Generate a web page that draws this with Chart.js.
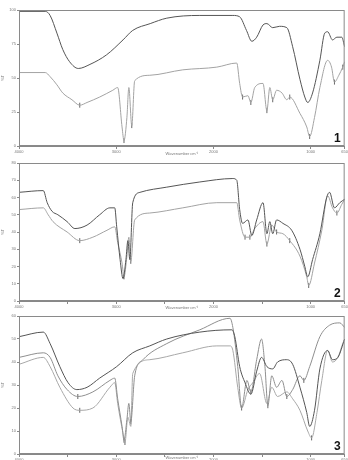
<!DOCTYPE html>
<html><head><meta charset="utf-8">
<script src="https://cdn.jsdelivr.net/npm/chart.js@4/dist/chart.umd.min.js"></script>
<style>
html,body{margin:0;padding:0;background:#fff;width:348px;height:460px;overflow:hidden}
.p{position:absolute;left:0}
</style></head><body>
<div class="p" style="top:0"><canvas id="c1" width="348" height="156"></canvas></div>
<div class="p" style="top:158px"><canvas id="c2" width="348" height="152"></canvas></div>
<div class="p" style="top:312px"><canvas id="c3" width="348" height="148"></canvas></div>
<script>
// x tick values (wavenumber, cm-1)
const xTicks = [4000, 3000, 2000, 1000, 650];
const xTicksMinor = [4000, 3500, 3000, 2500, 2000, 1500, 1000, 650];

// Panel 1
const p1DarkWn = [4000,3730,3680,3610,3550,3480,3390,3270,3100,2930,2830,2650,2480,2140,1800,1730,1660,1605,1555,1490,1450,1390,1320,1245,1185,1110,1060,1030,980,905,855,825,775,730,680,650];
const p1DarkT  = [99,99,96,83,71,62,57,60,67,78,85,90,94,96,96,95,85,77,80,89,90,87,88,87,73,49,36,32,39,63,83,84,78,80,80,73];
const p1LightWn = [4000,3730,3680,3610,3550,3455,3375,3300,3170,3035,2985,2940,2920,2890,2870,2840,2810,2655,2315,1965,1760,1730,1700,1645,1615,1575,1490,1450,1420,1390,1350,1295,1245,1215,1110,1040,1010,960,905,825,785,755,710,670,650];
const p1LightT  = [54,54,51,45,39,34,30,32,36,41,43,14,4,21,43,15,48,52,56,58,61,46,36,37,32,43,46,26,43,34,41,39,34,36,24,14,7,21,43,63,58,47,52,58,62];
const p1Marks = [6,12,15,22,24,27,29,33,36,41,43];

// Panel 2
const p2DarkWn = [4000,3750,3710,3660,3600,3505,3425,3300,3170,3065,3015,2995,2960,2930,2900,2880,2860,2830,2755,2480,2140,1800,1760,1730,1700,1645,1605,1555,1490,1450,1420,1390,1350,1285,1195,1110,1060,1030,980,905,835,805,755,700,650];
const p2DarkT  = [63,64,57,52,50,46,42,44,50,54,54,43,24,13,24,35,24,57,63,66,69,71,70,53,45,47,38,47,57,39,46,39,47,45,41,30,20,14,24,39,60,63,54,57,59];
const p2LightWn = [4000,3750,3700,3650,3505,3375,3240,3095,3015,2985,2940,2920,2890,2870,2850,2810,2655,2315,1965,1760,1730,1675,1625,1575,1490,1450,1400,1350,1285,1215,1110,1040,1020,960,885,825,775,730,680,650];
const p2LightT  = [53,54,50,46,40,35,37,41,43,34,22,14,26,37,23,47,51,54,57,57,47,37,37,42,46,33,44,40,39,35,26,14,9,22,41,61,54,51,56,59];
const p2Marks = [5,11,14,21,22,25,27,29,32,37];

// Panel 3
const p3aWn = [4000,3750,3680,3580,3495,3405,3300,3170,2995,2830,2655,2480,2140,1810,1780,1730,1675,1615,1555,1505,1450,1390,1340,1245,1185,1110,1040,1010,960,905,825,775,720,650];
const p3aT  = [51,53,48,38,31,28,29,33,38,44,47,50,53,54,51,38,31,26,36,42,38,37,40,41,39,29,18,12,19,37,45,41,42,50];
const p3bWn = [4000,3750,3680,3600,3505,3395,3240,3065,3015,2985,2940,2920,2890,2870,2850,2810,2725,2480,2140,1830,1800,1750,1710,1655,1615,1555,1505,1470,1440,1400,1350,1295,1245,1185,1110,1070,1010,905,805,700,650];
const p3bT  = [42,44,42,34,28,25,27,32,33,24,12,6,15,22,14,34,41,48,54,59,55,38,20,32,27,41,50,38,21,34,29,32,25,28,34,32,38,51,56,57,55];
const p3cWn = [4000,3750,3680,3580,3445,3375,3240,3065,3015,2985,2930,2910,2880,2850,2830,2655,2315,1965,1830,1800,1750,1710,1645,1595,1525,1450,1400,1340,1245,1185,1110,1030,990,935,885,825,775,720,670,650];
const p3cT  = [39,42,38,29,20,19,20,29,31,22,9,5,16,12,35,41,44,47,47,45,29,20,28,31,35,22,29,25,27,24,19,10,7,18,32,45,40,42,48,50];
const p3bMarks = [5,11,14,22,24,28,32,35];
const p3cMarks = [5,11,32];

const pts = (wn, t) => wn.map((w, i) => ({x: w, y: t[i]}));
const marks = (wn, t, idx) => idx.map(i => ({x: wn[i], y: t[i]}));

function line(wn, t, color, w) {
  return {data: pts(wn, t), borderColor: color, borderWidth: w, pointRadius: 0,
          cubicInterpolationMode: 'monotone', fill: false};
}
function markSet(wn, t, idx) {
  return {data: marks(wn, t, idx), showLine: false, pointStyle: 'line', rotation: 90,
          pointRadius: 2.5, borderColor: '#666', borderWidth: 1, pointHoverRadius: 0};
}

const framePlugin = {
  id: 'frame',
  afterDraw(chart, args, opts) {
    const a = chart.chartArea, ctx = chart.ctx;
    ctx.save();
    ctx.strokeStyle = '#8a8a8a'; ctx.lineWidth = 1;
    ctx.strokeRect(a.left + 0.5, a.top + 0.5, a.right - a.left - 1, a.bottom - a.top - 1);
    ctx.fillStyle = '#111';
    ctx.font = 'bold 12px "Liberation Sans", Arial, sans-serif';
    ctx.textAlign = 'right'; ctx.textBaseline = 'alphabetic';
    ctx.fillText(opts.label, a.right - 4, a.bottom - 4);
    ctx.restore();
  }
};

function panel(id, datasets, yMax, yStep, padTop, xH, label, ticks) {
  new Chart(document.getElementById(id), {
    type: 'line',
    data: {datasets},
    plugins: [framePlugin],
    options: {
      responsive: false, animation: false, events: [],
      layout: {padding: {top: padTop, right: 1, left: 0, bottom: 0}, autoPadding: false},
      plugins: {legend: {display: false}, tooltip: {enabled: false}, frame: {label}},
      scales: {
        x: {
          type: 'linear', reverse: true, min: 650, max: 4000,
          afterBuildTicks: s => { s.ticks = ticks.map(v => ({value: v})); },
          afterFit: s => { s.height = xH; },
          grid: {drawOnChartArea: false, drawTicks: true, tickLength: 3, color: '#888'},
          border: {color: '#888'},
          ticks: {font: {size: 4}, color: '#777', padding: 0, maxRotation: 0, autoSkip: false,
                  callback: v => (xTicks.includes(v) ? String(v) : '')},
          title: {display: true, text: 'Wavenumber cm⁻¹', font: {size: 4}, color: '#777', padding: 0}
        },
        y: {
          min: 0, max: yMax,
          afterFit: s => { s.width = 19; },
          grid: {drawOnChartArea: false, drawTicks: true, tickLength: 2, color: '#888'},
          border: {color: '#888'},
          ticks: {stepSize: yStep, font: {size: 4}, color: '#777', padding: 1},
          title: {display: true, text: '%T', font: {size: 4}, color: '#777', padding: {top: 0, bottom: 4}}
        }
      }
    }
  });
}

panel('c1', [
  line(p1DarkWn, p1DarkT, '#555555', 1),
  line(p1LightWn, p1LightT, '#a3a3a3', 1),
  markSet(p1LightWn, p1LightT, p1Marks)
], 100, 25, 10, 10, '1', xTicks);

panel('c2', [
  line(p2DarkWn, p2DarkT, '#555555', 1),
  line(p2LightWn, p2LightT, '#a3a3a3', 1),
  markSet(p2LightWn, p2LightT, p2Marks)
], 80, 10, 5, 9, '2', xTicksMinor);

panel('c3', [
  line(p3aWn, p3aT, '#555555', 1),
  line(p3bWn, p3bT, '#8f8f8f', 1),
  line(p3cWn, p3cT, '#a8a8a8', 1),
  markSet(p3bWn, p3bT, p3bMarks),
  markSet(p3cWn, p3cT, p3cMarks)
], 60, 10, 4, 6, '3', xTicksMinor);
</script>
</body></html>
